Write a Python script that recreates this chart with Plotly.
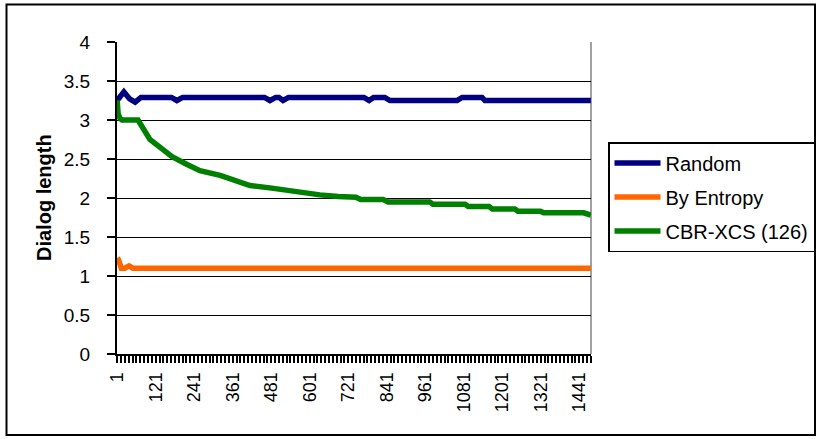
import plotly.graph_objects as go

# ---- data ----
series_names = ["Random", "By Entropy", "CBR-XCS (126)"]
series_colors = ["#000080", "#FF6600", "#008000"]

random_x = [1, 22, 40, 57, 75, 170, 187, 205, 460, 477, 495, 505, 518, 535,
            770, 786, 800, 835, 851, 870, 1060, 1076, 1138, 1147, 1477]
random_y = [3.25, 3.36, 3.27, 3.23, 3.29, 3.29, 3.25, 3.29, 3.29, 3.25, 3.29, 3.29, 3.25, 3.29,
            3.29, 3.25, 3.29, 3.29, 3.25, 3.25, 3.25, 3.29, 3.29, 3.25, 3.25]

entropy_x = [1, 5, 14, 25, 38, 50, 1477]
entropy_y = [1.23, 1.21, 1.10, 1.10, 1.13, 1.10, 1.10]

cbr_x = [1, 4, 10, 16, 66, 103, 141, 172, 219, 259, 322, 362, 415, 477, 530, 580, 633,
         690, 745, 760, 830, 845, 975, 985, 1085, 1095, 1160, 1170, 1240, 1250, 1320,
         1330, 1455, 1477]
cbr_y = [3.25, 3.08, 3.02, 3.00, 3.00, 2.75, 2.63, 2.53, 2.43, 2.35, 2.29, 2.23, 2.16, 2.13,
         2.10, 2.06, 2.04, 2.02, 2.01, 1.98, 1.98, 1.95, 1.95, 1.92, 1.92, 1.89, 1.89, 1.86,
         1.86, 1.83, 1.83, 1.81, 1.81, 1.78]

n_categories = 1477
x_tick_vals = [1, 121, 241, 361, 481, 601, 721, 841, 961, 1081, 1201, 1321, 1441]
x_tick_text = [str(v) for v in x_tick_vals]
y_title = "Dialog length"

FONT = "Liberation Sans, Arial, sans-serif"

fig = go.Figure()
for name, color, xs, ys in zip(series_names, series_colors,
                               [random_x, entropy_x, cbr_x],
                               [random_y, entropy_y, cbr_y]):
    fig.add_trace(go.Scatter(x=xs, y=ys, mode="lines", name=name, legendgroup=name,
                             line=dict(color=color, width=5.5)))

W, H = 818, 439
L, R, T, B = 117, 591, 42, 354
fig.update_layout(
    width=W, height=H,
    margin=dict(l=L, r=W - R, t=T, b=H - B, autoexpand=False),
    paper_bgcolor="white", plot_bgcolor="white",
    font=dict(family=FONT, color="black"),
    showlegend=True,
    legend=dict(x=(608 - L) / (R - L), y=(B - 142) / (B - T), xanchor="left", yanchor="top",
                bordercolor="black", borderwidth=1.5, bgcolor="white",
                font=dict(family=FONT, size=20, color="black"),
                tracegroupgap=5, itemwidth=46),
    xaxis=dict(range=[0.5, n_categories + 0.5], tickmode="array", tickvals=x_tick_vals,
               ticktext=x_tick_text, tickangle=-90, ticks="outside", ticklen=7, tickwidth=2,
               tickcolor="black", showline=True, linecolor="black", linewidth=2,
               showgrid=False, zeroline=False, ticklabelstandoff=2,
               tickfont=dict(family=FONT, size=18, color="black"),
               minor=dict(ticks="outside", dtick=12, tick0=1, ticklen=7, tickwidth=2,
                          tickcolor="black", showgrid=False)),
    yaxis=dict(range=[0, 4], dtick=0.5, tick0=0, ticks="outside", ticklen=8, tickwidth=2,
               tickcolor="black", showline=True, linecolor="black", linewidth=2,
               showgrid=True, gridcolor="black", gridwidth=1, zeroline=False,
               ticklabelstandoff=13,
               tickfont=dict(family=FONT, size=19, color="black")),
)

fig.add_annotation(text=f"<b>{y_title}</b>", xref="paper", yref="paper",
                   x=(44 - L) / (R - L), y=0.5, textangle=-90, showarrow=False,
                   font=dict(family=FONT, size=20, color="black"),
                   xanchor="center", yanchor="middle")

# plot-area right border (gray) and outer chart border (black)
fig.add_shape(type="line", xref="paper", yref="paper", x0=1, x1=1, y0=0, y1=1,
              line=dict(color="#808080", width=1.5), layer="below")
fig.add_shape(type="rect", xref="paper", yref="paper",
              x0=(6.5 - L) / (R - L), x1=(815 - L) / (R - L),
              y0=(B - 435) / (B - T), y1=(B - 4.5) / (B - T),
              line=dict(color="black", width=2), fillcolor="rgba(0,0,0,0)", layer="below")

fig.write_html("out.html", config={"displayModeBar": False},
               post_script="document.body.style.margin='0px';document.body.style.overflow='hidden';")
